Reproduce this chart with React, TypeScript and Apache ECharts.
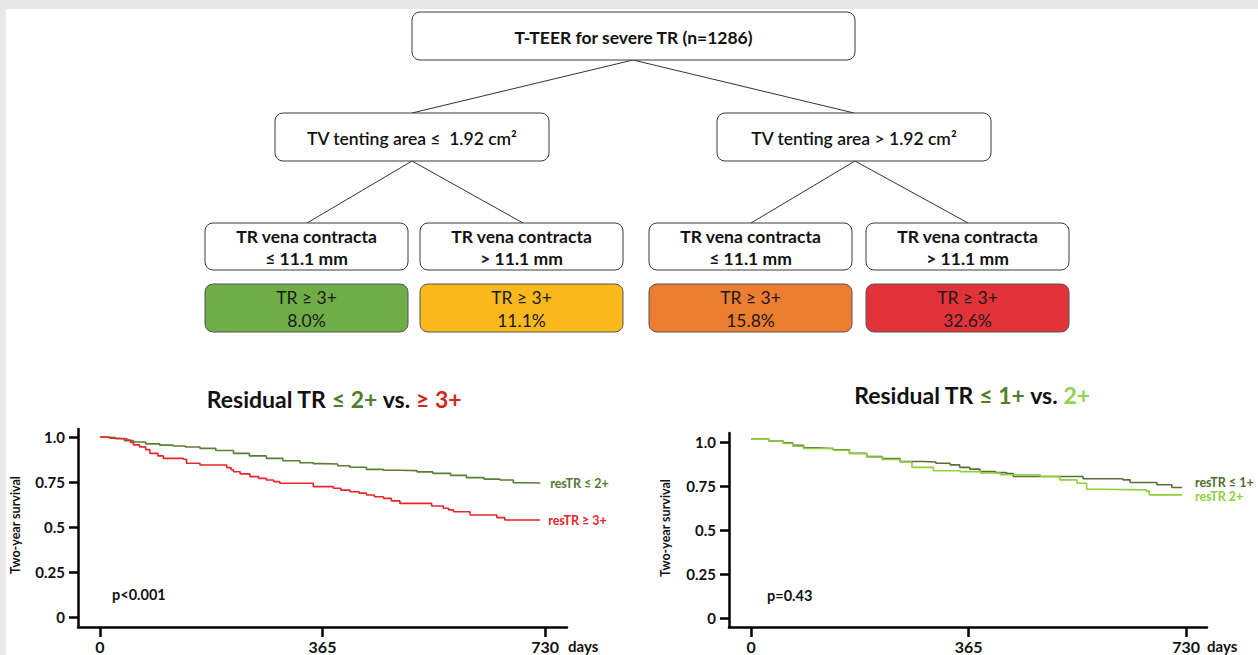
import React, { useEffect, useRef } from 'react';
import * as echarts from 'echarts';

// ---------- tree content ----------
const rootLabel = 'T-TEER for severe TR (n=1286)';
const tentingLabels = ['TV tenting area ≤  1.92 cm²', 'TV tenting area > 1.92 cm²'];
const vcTitle = 'TR vena contracta';
const vcLabels = ['≤ 11.1 mm', '> 11.1 mm', '≤ 11.1 mm', '> 11.1 mm'];
const residualLabel = 'TR ≥ 3+';
const residualRates = [8.0, 11.1, 15.8, 32.6];
const rateColors = ['#70ad47', '#f9b91c', '#ed7d31', '#e3333a'];

// ---------- axes ----------
const dayTicks = [0, 365, 730];
const survivalTicks = [0, 0.25, 0.5, 0.75, 1];

// ---------- left KM: residual TR <= 2+ vs >= 3+ ----------
const leftLowDays = [0, 10, 25, 40, 55, 75, 98, 120, 140, 164, 190, 219, 245, 273, 300, 328, 350, 365, 390, 410, 437, 465, 492, 520, 546, 575, 601, 630, 656, 678, 700, 722];
const leftLowSurv = [1.0, 0.997, 0.99, 0.98, 0.972, 0.962, 0.955, 0.95, 0.944, 0.937, 0.925, 0.909, 0.895, 0.881, 0.868, 0.857, 0.852, 0.85, 0.84, 0.832, 0.82, 0.815, 0.813, 0.806, 0.798, 0.787, 0.774, 0.766, 0.761, 0.746, 0.744, 0.744];
const leftHighDays = [0, 10, 16, 30, 44, 50, 55, 65, 75, 82, 95, 104, 137, 142, 164, 208, 215, 219, 230, 246, 260, 273, 285, 295, 350, 361, 383, 395, 410, 425, 437, 450, 465, 478, 492, 544, 563, 572, 580, 607, 651, 664, 722];
const leftHighSurv = [1.0, 0.997, 0.993, 0.99, 0.983, 0.97, 0.956, 0.945, 0.93, 0.909, 0.895, 0.881, 0.876, 0.854, 0.844, 0.83, 0.818, 0.807, 0.795, 0.78, 0.77, 0.761, 0.752, 0.743, 0.724, 0.724, 0.715, 0.705, 0.696, 0.688, 0.678, 0.668, 0.659, 0.645, 0.631, 0.617, 0.604, 0.595, 0.585, 0.567, 0.552, 0.539, 0.539];

// ---------- right KM: residual TR <= 1+ vs 2+ ----------
const rightLowDays = [0, 30, 54, 70, 88, 110, 138, 165, 194, 220, 250, 289, 310, 334, 350, 367, 384, 410, 429, 440, 547, 557, 624, 636, 681, 706, 723];
const rightLowSurv = [1.015, 1.005, 0.995, 0.98, 0.966, 0.962, 0.955, 0.935, 0.916, 0.905, 0.888, 0.885, 0.878, 0.869, 0.855, 0.845, 0.831, 0.825, 0.82, 0.803, 0.803, 0.79, 0.784, 0.769, 0.756, 0.741, 0.741];
const rightMidDays = [0, 30, 54, 70, 88, 138, 165, 194, 220, 250, 270, 306, 351, 385, 418, 485, 518, 547, 563, 585, 663, 668, 723];
const rightMidSurv = [1.015, 1.005, 0.99, 0.975, 0.962, 0.952, 0.932, 0.914, 0.9, 0.885, 0.855, 0.836, 0.831, 0.823, 0.813, 0.803, 0.784, 0.765, 0.731, 0.727, 0.72, 0.699, 0.699];

const FONT = 'Lato, "Open Sans", "DejaVu Sans", sans-serif';
const BORDER = '#3a3a3a';

const zip = (xs: number[], ys: number[]) => xs.map((x, i) => [x, ys[i]]);

function txt(x: number, y: number, text: string, size: number, weight: any, color = '#111', align = 'center', extra: any = {}) {
  return {
    type: 'text',
    x,
    y,
    silent: true,
    style: { text, fontSize: size, fontWeight: weight, fill: color, fontFamily: FONT, align, verticalAlign: 'middle' },
    ...extra,
  };
}
function rect(x: number, y: number, w: number, h: number, fill: string, stroke = BORDER) {
  return { type: 'rect', silent: true, shape: { x, y, width: w, height: h, r: 8 }, style: { fill, stroke, lineWidth: 1 } };
}
function seg(x1: number, y1: number, x2: number, y2: number) {
  return { type: 'line', silent: true, shape: { x1, y1, x2, y2 }, style: { stroke: '#333', lineWidth: 1 } };
}

function buildGraphic() {
  const g: any[] = [];
  // page frame (grey strips)
  g.push({ type: 'rect', silent: true, shape: { x: 0, y: 0, width: 1258, height: 9 }, style: { fill: '#e8e8e8' } });
  g.push({ type: 'rect', silent: true, shape: { x: 0, y: 0, width: 6, height: 655 }, style: { fill: '#e8e8e8' } });

  // tree connectors
  g.push(seg(633, 60, 412, 113), seg(633, 60, 854, 113));
  g.push(seg(412, 161, 307, 223), seg(412, 161, 523, 223));
  g.push(seg(855, 161, 751, 223), seg(855, 161, 968, 223));

  // root
  g.push(rect(412, 12, 443, 48, '#fff'));
  g.push(txt(633.5, 37, rootLabel, 17.5, 'bold'));

  // level 2
  const l2x = [275, 717];
  tentingLabels.forEach((t, i) => {
    g.push(rect(l2x[i], 113, 274, 48, '#fff'));
    g.push(txt(l2x[i] + 137, 138, t, 17.5, 600));
  });

  // leaves
  const lx = [205, 420, 649, 866];
  vcLabels.forEach((t, i) => {
    g.push(rect(lx[i], 223, 203, 47, '#fff'));
    g.push(txt(lx[i] + 101.5, 236, vcTitle, 17.5, 'bold'));
    g.push(txt(lx[i] + 101.5, 258, t, 17.5, 'bold'));
    g.push(rect(lx[i], 284, 203, 48, rateColors[i], '#555'));
    g.push(txt(lx[i] + 101.5, 297, residualLabel, 17.5, 'normal', '#1a1a1a'));
    g.push(txt(lx[i] + 101.5, 320, residualRates[i].toFixed(1) + '%', 17.5, 'normal', '#1a1a1a'));
  });

  // chart titles
  const rs = (c: string) => ({ fontSize: 23, fontWeight: 'bold', fontFamily: FONT, fill: c, color: c });
  g.push({
    type: 'text', x: 334, y: 399, silent: true,
    style: {
      text: '{k|Residual TR }{g|≤ 2+}{k| vs. }{r|≥ 3+}', align: 'center', verticalAlign: 'middle',
      fontSize: 23, fontWeight: 'bold', fontFamily: FONT, fill: '#111',
      rich: { k: rs('#111'), g: rs('#4f7d2a'), r: rs('#d0281e') },
    },
  });
  g.push({
    type: 'text', x: 972, y: 395, silent: true,
    style: {
      text: '{k|Residual TR }{g|≤ 1+}{k| vs. }{l|2+}', align: 'center', verticalAlign: 'middle',
      fontSize: 23, fontWeight: 'bold', fontFamily: FONT, fill: '#111',
      rich: { k: rs('#111'), g: rs('#4f7d2a'), l: rs('#92d050') },
    },
  });

  // axis names, p-values, units
  g.push(txt(15, 525, 'Two-year survival', 12.5, 'bold', '#111', 'center', { rotation: Math.PI / 2 }));
  g.push(txt(665, 528, 'Two-year survival', 12.5, 'bold', '#111', 'center', { rotation: Math.PI / 2 }));
  g.push(txt(112, 594, 'p<0.001', 14.5, 'bold', '#111', 'left'));
  g.push(txt(767, 595, 'p=0.43', 14.5, 'bold', '#111', 'left'));
  g.push(txt(568, 646, 'days', 15, 'bold', '#111', 'left'));
  g.push(txt(1207, 646, 'days', 15, 'bold', '#111', 'left'));
  return g;
}

function xAxis(gridIndex: number, min: number, max: number) {
  return {
    type: 'value', gridIndex, min, max,
    axisLine: { show: true, onZero: false, lineStyle: { color: '#000', width: 2.5 } },
    axisTick: { show: true, customValues: dayTicks, length: 10, lineStyle: { color: '#000', width: 2.5 } },
    axisLabel: { customValues: dayTicks, margin: 11, fontSize: 16, fontWeight: 'bold', color: '#111', fontFamily: FONT },
    splitLine: { show: false },
  };
}
function yAxis(gridIndex: number, min: number, max: number) {
  return {
    type: 'value', gridIndex, min, max,
    axisLine: { show: true, onZero: false, lineStyle: { color: '#000', width: 2.5 } },
    axisTick: { show: true, customValues: survivalTicks, length: 9, lineStyle: { color: '#000', width: 2.5 } },
    axisLabel: {
      customValues: survivalTicks, margin: 13, fontSize: 15, fontWeight: 'bold', color: '#111', fontFamily: FONT,
      formatter: (v: number) => (v === 1 ? '1.0' : String(v)),
    },
    splitLine: { show: false },
  };
}
function km(name: string, xi: number, days: number[], surv: number[], color: string, labelColor: string, dist: number, off: number[]) {
  return {
    type: 'line', name, xAxisIndex: xi, yAxisIndex: xi, step: 'end', symbol: 'none', showSymbol: false,
    data: zip(days, surv),
    lineStyle: { color, width: 1.6 },
    itemStyle: { color },
    endLabel: {
      show: true, formatter: name, color: labelColor, fontSize: 12.5, lineHeight: 13, fontWeight: 'bold', fontFamily: FONT,
      distance: dist, offset: off,
    },
  };
}

export default function App() {
  const ref = useRef<HTMLDivElement>(null);
  useEffect(() => {
    if (!ref.current) return;
    const chart = echarts.init(ref.current, null, { renderer: 'svg' });
    chart.setOption({
      animation: false,
      backgroundColor: '#ffffff',
      grid: [
        { left: 78, top: 429, width: 489, height: 198 },
        { left: 729, top: 433, width: 478, height: 194 },
      ],
      xAxis: [xAxis(0, -36, 766), xAxis(1, -37, 765)],
      yAxis: [yAxis(0, -0.0556, 1.0444), yAxis(1, -0.051, 1.05)],
      series: [
        km('resTR ≤ 2+', 0, leftLowDays, leftLowSurv, '#5b7e35', '#4f7a2a', 10, [0, 0]),
        km('resTR ≥ 3+', 0, leftHighDays, leftHighSurv, '#e8262a', '#e3262a', 8, [0, 1]),
        km('resTR ≤ 1+', 1, rightLowDays, rightLowSurv, '#56703a', '#4f6b2f', 13, [0, -5]),
        km('resTR 2+', 1, rightMidDays, rightMidSurv, '#8ed13c', '#8dd13b', 13, [0, 2]),
      ],
      graphic: buildGraphic(),
    });
    return () => chart.dispose();
  }, []);
  return <div ref={ref} style={{ position: 'fixed', left: 0, top: 0, width: 1258, height: 655 }} />;
}
